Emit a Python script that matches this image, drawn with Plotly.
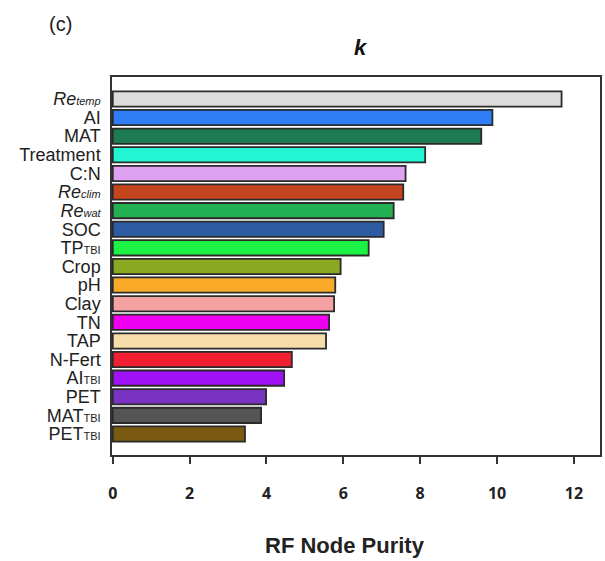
import plotly.graph_objects as go

S = '<span style="font-size:11px">'
labels = [
    f"<i>Re{S}temp</span></i>", "AI", "MAT", "Treatment", "C:N",
    f"<i>Re{S}clim</span></i>", f"<i>Re{S}wat</span></i>", "SOC",
    f"TP{S}TBI</span>", "Crop", "pH", "Clay", "TN", "TAP", "N-Fert",
    f"AI{S}TBI</span>", "PET", f"MAT{S}TBI</span>", f"PET{S}TBI</span>",
]
values = [11.68, 9.88, 9.59, 8.13, 7.62, 7.56, 7.31, 7.05, 6.66, 5.93,
          5.79, 5.76, 5.63, 5.55, 4.66, 4.46, 3.99, 3.86, 3.44]
colors = ["#dcdcdc", "#2f7ef6", "#1d7a52", "#22f5d2", "#dea2f2", "#c4461e",
          "#22b052", "#2e5ca2", "#1cf244", "#8aa822", "#f9aa28", "#f4a2a2",
          "#f000f0", "#f5deaa", "#f02032", "#a012f5", "#7a32c2", "#555555",
          "#7a5a12"]
x_ticks = [0, 2, 4, 6, 8, 10, 12]

fig = go.Figure(go.Bar(
    x=values, y=labels, orientation="h",
    marker=dict(color=colors, line=dict(color="#2a2a2a", width=1.8)),
    width=0.82,
))

fig.update_layout(
    width=605, height=561,
    margin=dict(l=112, r=3, t=77, b=106),
    plot_bgcolor="white", paper_bgcolor="white",
    showlegend=False,
    font=dict(family="Liberation Sans, Arial", color="#222"),
)
fig.update_xaxes(
    range=[-0.02, 12.68], tickvals=x_ticks, ticks="outside", ticklen=7,
    tickwidth=1.5, tickcolor="#333", showline=True, linecolor="#333",
    linewidth=1.5, mirror=True, showgrid=False, zeroline=False,
    tickfont=dict(family="Open Sans", size=16, color="#222", weight="bold"),
    ticklabelstandoff=16,
)
fig.update_yaxes(
    categoryorder="array", categoryarray=labels,
    tickmode="array", tickvals=labels, ticktext=labels,
    range=[19.13, -1.18], showline=True, linecolor="#333", linewidth=1.5,
    mirror=True, showgrid=False, ticks="", ticklabelstandoff=6,
    tickfont=dict(family="Liberation Sans, Arial", size=18, color="#222"),
)
fig.add_annotation(text="<b><i>k</i></b>", x=362, y=47, showarrow=False,
                   font=dict(size=22, color="#111"))
fig.add_annotation(text="(c)", x=60, y=24, showarrow=False,
                   font=dict(size=20, color="#222"))
fig.add_annotation(text="<b>RF Node Purity</b>", x=346, y=545, showarrow=False,
                   font=dict(size=22, color="#222"))

# convert pixel annotation positions to paper coords
W, H = 605, 561
L, R, T, B = 112, 3, 77, 106
pw, ph = W - L - R, H - T - B
for a in fig.layout.annotations:
    px, py = a.x, a.y
    a.xref = "paper"; a.yref = "paper"
    a.x = (px - L) / pw
    a.y = 1 - (py - T) / ph
    a.xanchor = "center"; a.yanchor = "middle"

fig.write_html("out.html")
